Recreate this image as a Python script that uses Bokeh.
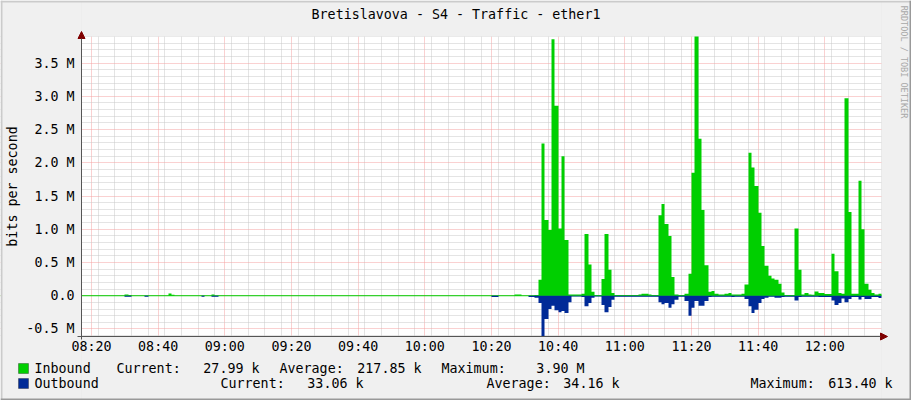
import numpy as np
import pandas as pd
from bokeh.plotting import figure
from bokeh.models import (ColumnDataSource, Range1d, FixedTicker, CustomJSTickFormatter,
                          Span, Label, BoxAnnotation, Arrow, NormalHead)
from bokeh.embed import file_html
from bokeh.resources import INLINE

# ---------------- data ----------------
TITLE = "Bretislavova - S4 - Traffic - ether1"
Y_LABEL = "bits per second"
WATERMARK = "RRDTOOL / TOBI OETIKER"
DAY = "2000-01-01"
FIRST_SAMPLE = "08:17:00"      # 1-minute samples
VIEW_START = "08:17:00"
VIEW_END = "12:17:00"
X_TICK_LABELS = ["08:20", "08:40", "09:00", "09:20", "09:40", "10:00",
                 "10:20", "10:40", "11:00", "11:20", "11:40", "12:00"]
Y_TICKS_M = [-0.5, 0.0, 0.5, 1.0, 1.5, 2.0, 2.5, 3.0, 3.5]

# inbound traffic, Mbit/s, one value per minute
inbound_mbps = (
    [0, 0, 0] +                                                   # 08:17-08:19
    [0, 0, 0, 0, 0, 0, 0, 0, 0, 0] +                              # 08:20
    [0.02, 0.01, 0, 0, 0, 0, 0, 0, 0, 0] +                        # 08:30
    [0, 0, 0, 0.035, 0.015, 0, 0, 0, 0, 0] +                      # 08:40
    [0, 0, 0, 0, 0, 0, 0.02, 0, 0, 0] +                           # 08:50
    [0, 0, 0, 0, 0, 0, 0, 0, 0, 0] +                              # 09:00
    [0, 0, 0, 0, 0, 0, 0, 0, 0, 0] +                              # 09:10
    [0, 0, 0, 0, 0, 0, 0, 0, 0, 0] +                              # 09:20
    [0, 0, 0, 0, 0, 0, 0, 0, 0, 0] +                              # 09:30
    [0, 0, 0, 0, 0, 0, 0, 0, 0, 0] +                              # 09:40
    [0, 0, 0, 0, 0, 0, 0, 0, 0, 0] +                              # 09:50
    [0, 0, 0, 0, 0, 0, 0, 0, 0, 0] +                              # 10:00
    [0, 0, 0, 0, 0, 0, 0, 0, 0, 0] +                              # 10:10
    [0, 0, 0, 0, 0, 0, 0, 0.02, 0.02, 0] +                        # 10:20
    [0, 0, 0, 0.01, 0.24, 2.29, 1.14, 0.99, 3.86, 2.86] +         # 10:30
    [1.01, 2.10, 0.84, 0.02, 0.02, 0.02, 0.02, 0.03, 0.93, 0.47] +  # 10:40
    [0.06, 0.01, 0.01, 0.25, 0.93, 0.39, 0.04, 0.01, 0.01, 0.01] +  # 10:50
    [0.01, 0.01, 0.01, 0.01, 0.02, 0.03, 0.03, 0.02, 0.01, 0.01] +  # 11:00
    [1.21, 1.38, 1.08, 0.90, 0.28, 0.02, 0.01, 0.01, 0.03, 0.33] +  # 11:10
    [1.85, 3.90, 2.36, 1.29, 0.46, 0.06, 0.07, 0.03, 0.02, 0.02] +  # 11:20
    [0.03, 0.04, 0.02, 0.02, 0.02, 0.03, 0.17, 2.15, 1.93, 1.65] +  # 11:30
    [1.25, 0.75, 0.45, 0.30, 0.26, 0.24, 0.18, 0.05, 0.01, 0.01] +  # 11:40
    [0.01, 1.01, 0.39, 0.02, 0.04, 0.02, 0.015, 0.065, 0.04, 0.04] +  # 11:50
    [0.025, 0.025, 0.63, 0.37, 0.04, 0.03, 2.97, 1.26, 0.03, 0.03] +  # 12:00
    [1.73, 1.00, 0.18, 0.09, 0.04, 0.02, 0.028]                    # 12:10-12:16
)

# outbound traffic, Mbit/s (drawn below zero), one value per minute
outbound_mbps = (
    [0, 0, 0] +                                                   # 08:17-08:19
    [0, 0, 0, 0, 0, 0, 0, 0, 0, 0] +                              # 08:20
    [0.015, 0.015, 0, 0, 0, 0, 0.015, 0, 0, 0] +                  # 08:30
    [0, 0, 0, 0, 0, 0, 0, 0, 0, 0] +                              # 08:40
    [0, 0, 0, 0.015, 0, 0, 0.015, 0.015, 0, 0] +                  # 08:50
    [0, 0, 0, 0, 0, 0, 0, 0, 0, 0] +                              # 09:00
    [0, 0, 0, 0, 0, 0, 0, 0, 0, 0] +                              # 09:10
    [0, 0, 0, 0, 0, 0, 0, 0, 0, 0] +                              # 09:20
    [0, 0, 0, 0, 0, 0, 0, 0, 0, 0] +                              # 09:30
    [0, 0, 0, 0, 0, 0, 0, 0, 0, 0] +                              # 09:40
    [0, 0, 0, 0, 0, 0, 0, 0, 0, 0] +                              # 09:50
    [0, 0, 0, 0, 0, 0, 0, 0, 0, 0] +                              # 10:00
    [0, 0, 0, 0, 0, 0, 0, 0, 0, 0] +                              # 10:10
    [0.02, 0.02, 0, 0, 0, 0, 0, 0, 0, 0] +                        # 10:20
    [0, 0.02, 0.02, 0.03, 0.11, 0.6134, 0.35, 0.20, 0.15, 0.22] +   # 10:30
    [0.25, 0.23, 0.26, 0.10, 0.01, 0.01, 0.01, 0.02, 0.16, 0.11] +  # 10:40
    [0.03, 0.01, 0.01, 0.14, 0.25, 0.17, 0.06, 0.015, 0.015, 0.015] +  # 10:50
    [0.015, 0.015, 0.015, 0.015, 0.015, 0.015, 0.015, 0.015, 0.015, 0.015] +  # 11:00
    [0.10, 0.13, 0.11, 0.18, 0.13, 0.06, 0.015, 0.015, 0.08, 0.30] +  # 11:10
    [0.18, 0.08, 0.15, 0.15, 0.08, 0.02, 0.015, 0.015, 0.015, 0.015] +  # 11:20
    [0.015, 0.015, 0.02, 0.015, 0.015, 0.015, 0.05, 0.16, 0.26, 0.21] +  # 11:30
    [0.11, 0.05, 0.03, 0.015, 0.015, 0.03, 0.03, 0.02, 0.015, 0.015] +  # 11:40
    [0.015, 0.07, 0.02, 0.015, 0.015, 0.015, 0.015, 0.015, 0.02, 0.02] +  # 11:50
    [0.02, 0.02, 0.07, 0.14, 0.11, 0.04, 0.10, 0.05, 0.02, 0.02] +  # 12:00
    [0.055, 0.02, 0.05, 0.05, 0.02, 0.02, 0.033]                   # 12:10-12:16
)

LEGEND_NAMES = ["Inbound", "Outbound"]
CURRENT = ["27.99 k", "33.06 k"]
AVERAGE = ["217.85 k", "34.16 k"]
MAXIMUM = ["3.90 M", "613.40 k"]

# ---------------- style / layout ----------------
GREEN = "#00CF00"
BLUE = "#002A97"
BACK = "#F0F0F0"
AXIS = "#555555"
ARROW = "#7F0000"
GRID = "#C8C8C8"
MGRID = "#F5A3A3"
SHADE_A = "#CBCBCB"
SHADE_B = "#999999"
FONT = "DejaVu Sans Mono"
FS = "13.33px"
W, H = 911, 400
PL, PR, PT, PB = 81, 881, 36, 336          # data area in canvas pixels

# ---------------- build ----------------
def ms(ts):
    return pd.Timestamp(ts).value / 1e6

inb = np.array(inbound_mbps, dtype=float)
outb = np.array(outbound_mbps, dtype=float)
t0 = pd.Timestamp(f"{DAY} {VIEW_START}")
t1 = pd.Timestamp(f"{DAY} {VIEW_END}")
ymin, ymax = -outb.max(), inb.max()
ms_per_px = (ms(t1) - ms(t0)) / (PR - PL)
m_per_px = (ymax - ymin) / (PB - PT)

def X(px):  # canvas px -> data x (ms)
    return ms(t0) + (px - PL) * ms_per_px

def Y(py):  # canvas px -> data y
    return ymin + (PB - py) * m_per_px

# sample boundaries, snapped to whole pixel columns (as rrdtool renders them)
edges = pd.date_range(f"{DAY} {FIRST_SAMPLE}", periods=len(inb) + 1, freq="1min")
edges_ms = np.array([ms(t) for t in edges])
edges_ms = ms(t0) + np.round((edges_ms - ms(t0)) / ms_per_px) * ms_per_px
xs = np.repeat(edges_ms, 2)[1:-1]
src = ColumnDataSource(dict(x=xs, inb=np.repeat(inb, 2), out=-np.repeat(outb, 2)))

p = figure(width=W, height=H, x_axis_type="datetime", title=None,
           x_range=Range1d(X(0), X(W)), y_range=Range1d(Y(H), Y(0)),
           output_backend="svg", toolbar_location=None, min_border=0)
p.background_fill_color = "white"
p.border_fill_color = BACK
p.outline_line_color = None

x_major = [ms(f"{DAY} {s}") for s in X_TICK_LABELS]
x_minor = [ms(t) for t in pd.date_range(t0, t1, freq="5min") if ms(t) not in x_major]
xa = p.xaxis[0]
xa.ticker = FixedTicker(ticks=x_major, minor_ticks=x_minor)
xa.formatter = CustomJSTickFormatter(code="""
const d = new Date(tick); const h = d.getUTCHours(), m = d.getUTCMinutes();
return (h < 10 ? '0' : '') + h + ':' + (m < 10 ? '0' : '') + m;""")
xa.fixed_location = ymin
xa.bounds = (ms(t0), ms(t1))
y_minor = [round(v, 1) for v in np.arange(-0.6, 4.0, 0.1) if round(v, 1) not in Y_TICKS_M]
ya = p.yaxis[0]
ya.ticker = FixedTicker(ticks=Y_TICKS_M, minor_ticks=y_minor)
ya.formatter = CustomJSTickFormatter(code="return Math.abs(tick) < 1e-9 ? '0.0' : tick.toFixed(1) + ' M';")
ya.fixed_location = ms(t0)
ya.bounds = (ymin, ymax)
for ax, st in ((xa, 2), (ya, 7)):
    ax.major_tick_out = 0
    ax.major_tick_in = 0
    ax.minor_tick_out = 0
    ax.minor_tick_in = 0
    ax.axis_line_color = AXIS
    ax.major_label_text_font = FONT
    ax.major_label_text_font_size = FS
    ax.major_label_text_color = "black"
    ax.major_label_standoff = st
ya.axis_label = Y_LABEL
ya.axis_label_text_font = FONT
ya.axis_label_text_font_size = FS
ya.axis_label_text_font_style = "normal"
ya.axis_label_text_color = "black"
ya.axis_label_standoff = 3

for g in (p.xgrid[0], p.ygrid[0]):
    g.grid_line_color = MGRID
    g.grid_line_dash = "1 1"
    g.minor_grid_line_color = GRID
    g.minor_grid_line_dash = "1 1"

p.add_layout(Span(location=0, dimension="width", line_color=GREEN, line_width=1, level="underlay"))

# grey margins around the data area (cover grid lines outside it)
for kw in (dict(right=ms(t0)), dict(left=ms(t1)),
           dict(left=ms(t0), right=ms(t1), bottom=ymax),
           dict(left=ms(t0), right=ms(t1), top=ymin)):
    p.add_layout(BoxAnnotation(fill_color=BACK, fill_alpha=1, line_color=None,
                               level="underlay", **kw))

p.varea(x="x", y1=0, y2="inb", source=src, fill_color=GREEN)
p.varea(x="x", y1=0, y2="out", source=src, fill_color=BLUE)

# axis arrows
p.add_layout(Arrow(end=NormalHead(size=7, fill_color=ARROW, line_color=ARROW),
                   x_start=ms(t0), y_start=Y(PB + 3), x_end=ms(t0), y_end=Y(PT - 5),
                   line_color=AXIS, line_width=1))
p.add_layout(Arrow(end=NormalHead(size=7, fill_color=ARROW, line_color=ARROW),
                   x_start=X(PL - 4), y_start=ymin, x_end=X(PR + 6), y_end=ymin,
                   line_color=AXIS, line_width=1))

# 3-D frame of the image
for kw, c in ((dict(top=Y(0), bottom=Y(2)), SHADE_A), (dict(right=X(2)), SHADE_A),
              (dict(top=Y(H - 2), bottom=Y(H)), SHADE_B), (dict(left=X(W - 2)), SHADE_B)):
    p.add_layout(BoxAnnotation(fill_color=c, fill_alpha=1, line_color=None, **kw))

def lab(text, x, y, align="left", size=FS, angle=0.0, color="black"):
    p.add_layout(Label(text=text, x=x, y=H - y, x_units="screen", y_units="screen",
                       text_align=align, text_baseline="middle", angle=angle,
                       text_font=FONT, text_font_size=size, text_color=color))

lab(TITLE, 455.5, 14, align="center")
lab(WATERMARK, 903, 61.5, align="center", size="8.5px", angle=-np.pi / 2, color="#A8A8A8")

# legend area
row_y = [368, 383]
cols = [  # (label x, value right edge x) per row
    [(116, 259), (279, 421), (441, 584)],
    [(220, 363), (486, 619), (750, 892)],
]
for i, color in enumerate((GREEN, BLUE)):
    p.add_layout(BoxAnnotation(left=X(18), right=X(28), top=Y(row_y[i] - 5), bottom=Y(row_y[i] + 5),
                               fill_color=color, fill_alpha=1, line_color="#000000", line_width=1))
    lab(LEGEND_NAMES[i], 34, row_y[i])
    for (lx, vx), name, val in zip(cols[i], ("Current:", "Average:", "Maximum:"),
                                   (CURRENT[i], AVERAGE[i], MAXIMUM[i])):
        lab(name, lx, row_y[i])
        lab(val, vx, row_y[i], align="right")

open("out.html", "w").write(file_html(p, INLINE))
